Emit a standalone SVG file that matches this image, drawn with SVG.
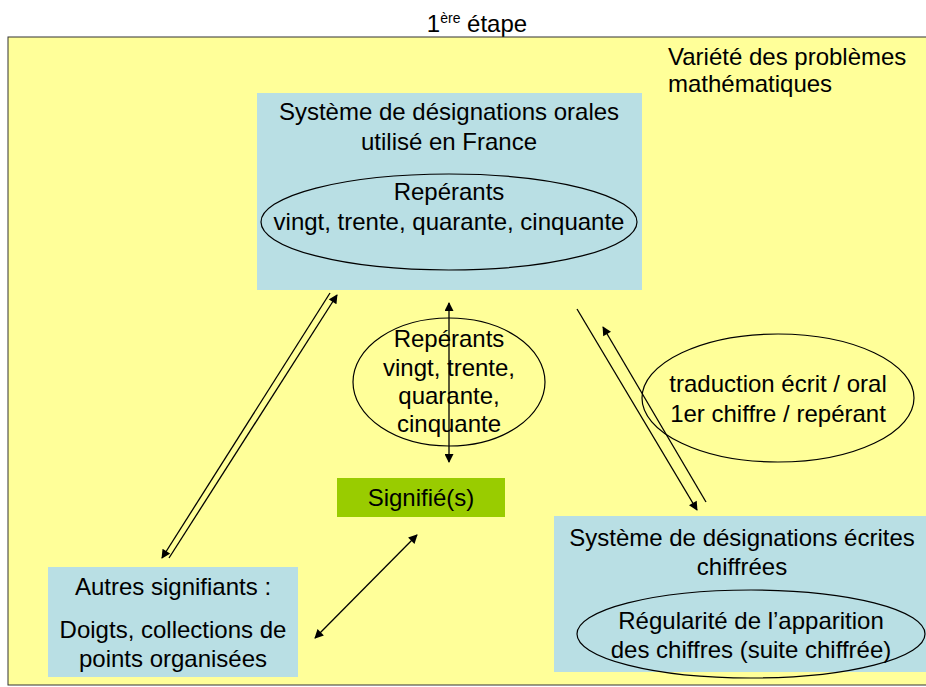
<svg xmlns="http://www.w3.org/2000/svg" width="926" height="687" viewBox="0 0 926 687">
<style>
text{font-family:"Liberation Sans",Arial,sans-serif;font-size:24px;fill:#000;}
.c{text-anchor:middle;}
.box{fill:#B9DFE4;}
.ell{fill:none;stroke:#000;stroke-width:1.2;}
.ln{stroke:#000;stroke-width:1.3;fill:none;}
</style>
<defs>
<marker id="ah" viewBox="0 0 10 10" refX="9" refY="5" markerWidth="11" markerHeight="9" markerUnits="userSpaceOnUse" orient="auto-start-reverse">
<path d="M0,0 L10,5 L0,10 z" fill="#000"/>
</marker>
</defs>
<rect width="926" height="687" fill="#fff"/>
<g id="title"><text class="c" x="477" y="32">1<tspan font-size="14" dy="-9">ère</tspan><tspan dy="9"> étape</tspan></text></g>
<g id="background"><rect x="8" y="37" width="930" height="648" fill="#FFFF99" stroke="#333" stroke-width="1"/></g>
<g id="variete"><text x="668" y="65">Variété des problèmes</text><text x="668" y="92">mathématiques</text></g>
<g id="oral">
<rect class="box" x="257" y="93" width="385" height="197"/>
<text class="c" x="449" y="120">Système de désignations orales</text>
<text class="c" x="449" y="150">utilisé en France</text>
<ellipse class="ell" cx="449" cy="222" rx="188" ry="48"/>
<text class="c" x="449" y="200">Repérants</text>
<text class="c" x="449" y="230">vingt, trente, quarante, cinquante</text>
</g>
<g id="reperants">
<ellipse class="ell" cx="449" cy="382" rx="96" ry="64"/>
<text class="c" x="449" y="347">Repérants</text>
<text class="c" x="449" y="376">vingt, trente,</text>
<text class="c" x="449" y="404">quarante,</text>
<text class="c" x="449" y="432">cinquante</text>
</g>
<g id="traduction">
<ellipse class="ell" cx="778" cy="398" rx="136" ry="64"/>
<text class="c" x="778" y="392">traduction écrit / oral</text>
<text class="c" x="778" y="422">1er chiffre / repérant</text>
</g>
<g id="signifie">
<rect x="337" y="478" width="168" height="39" fill="#99CC00"/>
<text class="c" x="421" y="506">Signifié(s)</text>
</g>
<g id="autres">
<rect class="box" x="48" y="567" width="250" height="110"/>
<text class="c" x="173" y="595">Autres signifiants :</text>
<text class="c" x="173" y="638">Doigts, collections de</text>
<text class="c" x="173" y="667">points organisées</text>
</g>
<g id="ecrites">
<rect class="box" x="554" y="516" width="380" height="156"/>
<text class="c" x="742" y="546">Système de désignations écrites</text>
<text class="c" x="742" y="575">chiffrées</text>
<ellipse class="ell" cx="751" cy="634" rx="174" ry="44"/>
<text class="c" x="751" y="629">Régularité de l’apparition</text>
<text class="c" x="751" y="658">des chiffres (suite chiffrée)</text>
</g>
<g id="connectors">
<line class="ln" x1="449" y1="303" x2="449" y2="462" marker-start="url(#ah)" marker-end="url(#ah)"/>
<line class="ln" x1="330" y1="293" x2="162" y2="558" marker-end="url(#ah)"/>
<line class="ln" x1="169" y1="558" x2="337" y2="295" marker-end="url(#ah)"/>
<line class="ln" x1="315" y1="638" x2="417" y2="535" marker-start="url(#ah)" marker-end="url(#ah)"/>
<line class="ln" x1="577" y1="309" x2="697" y2="510" marker-end="url(#ah)"/>
<line class="ln" x1="706" y1="502" x2="603" y2="327" marker-end="url(#ah)"/>
</g>
</svg>
